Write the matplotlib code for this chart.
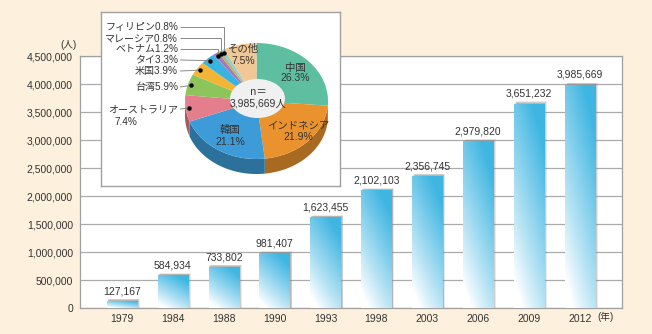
import numpy as np
import matplotlib
matplotlib.use("Agg")
import matplotlib.pyplot as plt
from matplotlib.patches import Polygon, Ellipse, Rectangle
from matplotlib.ticker import FuncFormatter
from matplotlib.colors import to_rgb

plt.rcParams['font.family'] = ['Liberation Sans', 'Noto Sans CJK JP', 'DejaVu Sans']

# --- data -------------------------------------------------------------
years = ["1979", "1984", "1988", "1990", "1993", "1998", "2003", "2006", "2009", "2012"]
visitors = [127167, 584934, 733802, 981407, 1623455, 2102103, 2356745, 2979820, 3651232, 3985669]

countries = ["中国", "インドネシア", "韓国", "オーストラリア", "台湾", "米国", "タイ",
             "ベトナム", "マレーシア", "フィリピン", "その他"]
shares = [26.3, 21.9, 21.1, 7.4, 5.9, 3.9, 3.3, 1.2, 0.8, 0.8, 7.5]

y_ticks = [0, 500000, 1000000, 1500000, 2000000, 2500000, 3000000, 3500000, 4000000, 4500000]

# --- style ------------------------------------------------------------
BG = "#fdf1dd"
TXT = "#333333"
GRID = "#ababab"
BAR_TOP = np.array(to_rgb("#3fb6e2"))
pie_colors = ["#5dbf9f", "#e9922e", "#3d9bd8", "#e47e8c", "#8cc65a", "#f4b436",
              "#39b3e2", "#a37bbd", "#b9b56b", "#8fcfd0", "#f1c796"]

W, H = 652, 334
fig = plt.figure(figsize=(W / 100, H / 100), dpi=100, facecolor=BG)


def fig_box(x0, y0, x1, y1):
    """pixel box (top-left origin) -> figure fraction rect"""
    return [x0 / W, 1 - y1 / H, (x1 - x0) / W, (y1 - y0) / H]


# --- bar chart --------------------------------------------------------
ax = fig.add_axes(fig_box(80, 56, 622, 308))
ax.set_facecolor("white")
x = np.arange(len(years))
bw = 0.6
ax.set_xlim(-0.825, len(years) - 1 + 0.825)
ax.set_ylim(0, y_ticks[-1])

ax.set_yticks(y_ticks)
ax.yaxis.set_major_formatter(FuncFormatter(lambda v, p: f"{int(v):,}"))
ax.set_xticks(x)
ax.set_xticklabels(years)
ax.tick_params(axis="both", length=0, labelsize=7.5, labelcolor=TXT)
ax.tick_params(axis="y", pad=5)
ax.tick_params(axis="x", pad=4)
ax.grid(axis="y", color=GRID, lw=0.9, zorder=0)
ax.set_axisbelow(True)
for s in ax.spines.values():
    s.set_color("#a0a0a0")
    s.set_linewidth(0.9)

# gradient: white at lower-left, blue at upper-right
gy, gx = np.mgrid[0:1:120j, 0:1:40j]
t = np.clip(0.85 * gy + 0.45 * gx - 0.12, 0, 1) ** 0.9
grad = (1 - t)[..., None] * np.ones(3) + t[..., None] * BAR_TOP

px_x = 1 / 50.9          # one pixel in x data units
px_y = y_ticks[-1] / 252  # one pixel in y data units

bars = ax.bar(x, visitors, width=bw, color="none", edgecolor="none", zorder=3)
for b, v in zip(bars, visitors):
    x0 = b.get_x()
    # soft shadow behind the bar
    for k, a in ((3.2, 0.18), (2.2, 0.30), (1.2, 0.35)):
        ax.add_patch(Rectangle((x0 + k * px_x * 0.8, 0), bw, v + k * px_y * 0.7,
                               facecolor="#8c8c8c", edgecolor="none", alpha=a, zorder=2))
    im = ax.imshow(grad, extent=(x0, x0 + bw, 0, v), origin="lower",
                   aspect="auto", interpolation="bilinear", zorder=3)
    im.set_clip_path(b)
    ax.annotate(f"{v:,}", (b.get_x() + bw / 2, v), xytext=(0, 3.5),
                textcoords="offset points", ha="center", va="bottom",
                fontsize=7.5, color=TXT, zorder=5)

ax.set_xlim(-0.825, len(years) - 1 + 0.825)
ax.set_ylim(0, y_ticks[-1])

fig.text(77 / W, 1 - 45 / H, "(人)", ha="right", va="center", fontsize=7, color=TXT)
fig.text(597 / W, 1 - 317 / H, "(年)", ha="left", va="center", fontsize=7, color=TXT)

# --- inset: 3D-style doughnut pie --------------------------------------
CX, CY, RX, RY = 256.5, 101.0, 71.5, 58.0
BX0, BY0, BX1, BY1 = 101, 12, 340, 186
pax = fig.add_axes(fig_box(BX0, BY0, BX1, BY1), zorder=5)
pax.set_facecolor("white")
for s in pax.spines.values():
    s.set_color("#a0a0a0")
    s.set_linewidth(1.0)


def d(px, py):
    return ((px - CX) / RX, (CY - py) / RY)


wedges, _ = pax.pie(shares, colors=pie_colors, startangle=90, counterclock=False,
                    radius=1.0, frame=True, wedgeprops=dict(linewidth=0))
pax.set_aspect("auto")
pax.set_xlim(d(BX0, 0)[0], d(BX1, 0)[0])
pax.set_ylim(d(0, BY1)[1], d(0, BY0)[1])
pax.set_xticks([])
pax.set_yticks([])

depth = 15 / RY
for w, c in zip(wedges, pie_colors):
    w.set_zorder(3)
    dark = np.array(to_rgb(c)) * 0.72
    for k in (-360, 0, 360):
        a = max(w.theta1, -180 + k)
        b = min(w.theta2, 0 + k)
        if a < b:
            th = np.radians(np.linspace(a, b, 60))
            top = np.column_stack([np.cos(th), np.sin(th)])
            bot = np.column_stack([np.cos(th[::-1]), np.sin(th[::-1]) - depth])
            pax.add_patch(Polygon(np.vstack([top, bot]), closed=True,
                                  facecolor=dark, edgecolor="none", zorder=2))

hc = d(257.5, 98.5)
pax.add_patch(Ellipse(hc, 2 * 27.5 / RX, 2 * 19.5 / RY, facecolor="#f0f0f0",
                      edgecolor="none", zorder=4))
pax.text(*d(258, 92), "n＝", ha="center", va="center", fontsize=7.5, color=TXT,
         zorder=6, family=["Noto Sans CJK JP"])
pax.text(*d(258, 103), f"{visitors[-1]:,}人", ha="center", va="center",
         fontsize=7.5, color=TXT, zorder=6)

# labels drawn on the slices
inside = {0: (295, 67.5, 78), 1: (298, 126, 137.5), 2: (230, 130, 142), 10: (243, 49, 61)}
for i, (lx, ly1, ly2) in inside.items():
    pax.text(*d(lx, ly1), countries[i], ha="center", va="center", fontsize=7.5,
             color=TXT, zorder=6)
    pax.text(*d(lx, ly2), f"{shares[i]}%", ha="center", va="center", fontsize=7.5,
             color=TXT, zorder=6)

# labels with leader lines
outside = {9: 27, 8: 38, 7: 49, 6: 60, 5: 71, 4: 87, 3: 109}
for i, ty in outside.items():
    w = wedges[i]
    mid = np.radians((w.theta1 + w.theta2) / 2)
    dx, dy = 0.95 * np.cos(mid), 0.95 * np.sin(mid)
    tx, tyd = d(180, ty)
    if i in (9, 8, 7):
        pts = [(tx, tyd), (dx, tyd), (dx, dy)]
    else:
        pts = [(tx, tyd), (dx, dy)]
    xs, ys = zip(*pts)
    pax.plot(xs, ys, color="#8a8a8a", lw=0.7, zorder=5, solid_capstyle="butt")
    pax.plot(dx, dy, "o", color="black", ms=2.2, zorder=6)
    if i == 3:
        pax.text(*d(178, ty), countries[i], ha="right", va="center", fontsize=7.2,
                 color=TXT, zorder=6)
        pax.text(*d(115, ty + 13), f"{shares[i]}%", ha="left", va="center",
                 fontsize=7.2, color=TXT, zorder=6)
    else:
        pax.text(*d(178, ty), f"{countries[i]}{shares[i]}%", ha="right", va="center",
                 fontsize=7.2, color=TXT, zorder=6)

fig.savefig("out.png", dpi=100, facecolor=BG)
